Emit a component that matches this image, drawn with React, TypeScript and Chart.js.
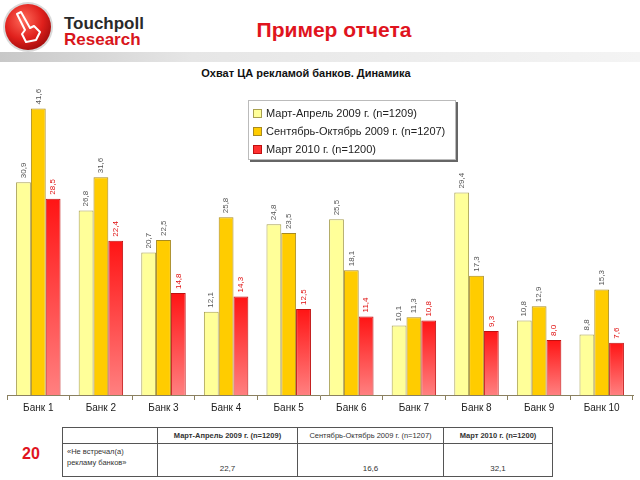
import React, { useEffect, useRef } from "react";
import { Chart, registerables } from "chart.js";

Chart.register(...registerables);

const categories = ["Банк 1", "Банк 2", "Банк 3", "Банк 4", "Банк 5", "Банк 6", "Банк 7", "Банк 8", "Банк 9", "Банк 10"];
const seriesNames = ["Март-Апрель 2009 г. (n=1209)", "Сентябрь-Октябрь 2009 г. (n=1207)", "Март 2010 г. (n=1200)"];
const marApr2009 = [30.9, 26.8, 20.7, 12.1, 24.8, 25.5, 10.1, 29.4, 10.8, 8.8];
const sepOct2009 = [41.6, 31.6, 22.5, 25.8, 23.5, 18.1, 11.3, 17.3, 12.9, 15.3];
const mar2010 = [28.5, 22.4, 14.8, 14.3, 12.5, 11.4, 10.8, 9.3, 8.0, 7.6];
const tableHeaders = ["Март-Апрель 2009 г. (n=1209)", "Сентябрь-Октябрь 2009 г. (n=1207)", "Март 2010 г. (n=1200)"];
const tableRowLabel = ["«Не встречал(а)", "рекламу банков»"];
const tableValues = ["22,7", "16,6", "32,1"];

const fillColors = ["#ffff99", "#ffcc00", "#ff2a2a"];
const borderColors = ["#a8a050", "#a88a20", "#c01010"];
const labelColors = ["#555555", "#555555", "#e01010"];

const fmt = (v: number) => v.toFixed(1).replace(".", ",");

const valueLabels = {
  id: "valueLabels",
  afterDatasetsDraw(chart: any) {
    const ctx = chart.ctx;
    chart.data.datasets.forEach((ds: any, di: number) => {
      const meta = chart.getDatasetMeta(di);
      meta.data.forEach((el: any, i: number) => {
        ctx.save();
        ctx.translate(el.x, el.y - 4);
        ctx.rotate(-Math.PI / 2);
        ctx.font = "8px Arial, 'Liberation Sans', sans-serif";
        ctx.fillStyle = labelColors[di];
        ctx.textAlign = "left";
        ctx.textBaseline = "middle";
        ctx.fillText(fmt(ds.data[i]), 0, 0);
        ctx.restore();
      });
    });
  },
};

function App() {
  const ref = useRef<HTMLCanvasElement>(null);
  useEffect(() => {
    if (!ref.current) return;
    const redFill = (c: any) => {
      const chart = c.chart;
      const ys = chart.scales && chart.scales.y;
      if (!ys || c.dataIndex === undefined) return "#ff3030";
      const top = ys.getPixelForValue(mar2010[c.dataIndex]);
      const bottom = ys.getPixelForValue(0);
      if (!isFinite(top) || !isFinite(bottom) || top === bottom) return "#ff3030";
      const g = chart.ctx.createLinearGradient(0, top, 0, bottom);
      g.addColorStop(0, "#ff1414");
      g.addColorStop(1, "#ff8080");
      return g;
    };
    const chart = new Chart(ref.current, {
      type: "bar",
      data: {
        labels: categories,
        datasets: [
          { label: seriesNames[0], data: marApr2009, backgroundColor: fillColors[0], borderColor: borderColors[0], borderWidth: 1 },
          { label: seriesNames[1], data: sepOct2009, backgroundColor: fillColors[1], borderColor: borderColors[1], borderWidth: 1 },
          { label: seriesNames[2], data: mar2010, backgroundColor: redFill as any, borderColor: borderColors[2], borderWidth: 1 },
        ],
      },
      options: {
        animation: false,
        responsive: false,
        devicePixelRatio: 1,
        layout: { padding: { top: 5, left: 7, right: 7, bottom: 0 } },
        datasets: { bar: { categoryPercentage: 0.71, barPercentage: 1.0 } },
        plugins: { legend: { display: false }, tooltip: { enabled: false } },
        scales: {
          y: { display: false, min: 0, max: 45 },
          x: {
            grid: { display: true, drawOnChartArea: false, drawTicks: true, tickLength: 5, offset: true, color: "#8a8060" },
            border: { display: true, color: "#8a8060", width: 1 },
            ticks: { color: "#222", font: { size: 10, family: "Arial, 'Liberation Sans', sans-serif" }, padding: 2 },
          },
        },
      },
      plugins: [valueLabels],
    });
    return () => chart.destroy();
  }, []);

  const font = "Arial, 'Liberation Sans', sans-serif";
  return (
    <div style={{ position: "fixed", left: 0, top: 0, width: 640, height: 480, background: "#fff", fontFamily: font, overflow: "hidden" }}>
      <svg width={640} height={70} style={{ position: "absolute", left: 0, top: 0 }}>
        <defs>
          <radialGradient id="rg" cx="40%" cy="35%" r="70%">
            <stop offset="0%" stopColor="#ff6a5a" />
            <stop offset="60%" stopColor="#e0201c" />
            <stop offset="100%" stopColor="#a00c0c" />
          </radialGradient>
          <linearGradient id="band" x1="0" x2="1" y1="0" y2="0">
            <stop offset="0%" stopColor="#c8c8c8" />
            <stop offset="30%" stopColor="#e6e6e6" />
            <stop offset="100%" stopColor="#f4f4f4" />
          </linearGradient>
        </defs>
        <rect x={0} y={52} width={640} height={10} fill="url(#band)" />
        <circle cx={28} cy={27} r={25} fill="#d9d9d9" />
        <circle cx={28} cy={27} r={23} fill="url(#rg)" />
        <path d="M17 14 L25 30 L22 34 L26 42 L36 40 L40 32 L34 26 L30 28 L21 12 Z" fill="none" stroke="#fff" strokeWidth={2} strokeLinejoin="round" />
        <text x={64} y={29} fontFamily={font} fontWeight="bold" fontSize={17} fill="#2a2a2a">Touchpoll</text>
        <text x={64} y={45} fontFamily={font} fontWeight="bold" fontSize={17} fill="#d8161c">Research</text>
        <text x={334} y={37} textAnchor="middle" fontFamily={font} fontWeight="bold" fontSize={21} fill="#e0141e">Пример отчета</text>
      </svg>
      <div style={{ position: "absolute", left: 0, width: 612, top: 67, textAlign: "center", fontSize: 11, fontWeight: "bold", color: "#111" }}>
        Охват ЦА рекламой банков. Динамика
      </div>
      <canvas ref={ref} width={640} height={336} style={{ position: "absolute", left: 0, top: 80, width: 640, height: 336 }} />
      <div style={{ position: "absolute", left: 248, top: 100, width: 206, height: 58, background: "#fff", border: "1px solid #bbb", boxShadow: "2px 2px 0 #666", fontSize: 11, color: "#222" }}>
        {seriesNames.map((n, i) => (
          <div key={i} style={{ position: "absolute", left: 4, top: 6 + i * 18, whiteSpace: "nowrap", display: "flex", alignItems: "center" }}>
            <span style={{ display: "inline-block", width: 7, height: 7, background: i === 2 ? "#ff3030" : fillColors[i], border: `1px solid ${borderColors[i]}`, marginRight: 4 }} />
            {n}
          </div>
        ))}
      </div>
      <div style={{ position: "absolute", left: 22, top: 445, fontSize: 16, fontWeight: "bold", color: "#e0141e" }}>20</div>
      <table style={{ position: "absolute", left: 62, top: 427, width: 491, height: 50, borderCollapse: "collapse", fontSize: 7.5, color: "#333", fontFamily: font }}>
        <tbody>
          <tr style={{ height: 16 }}>
            <td style={{ border: "1px solid #555", width: 92 }}></td>
            <td style={{ border: "1px solid #555", width: 137, textAlign: "center", fontWeight: "bold" }}>{tableHeaders[0]}</td>
            <td style={{ border: "1px solid #555", width: 143, textAlign: "center" }}>{tableHeaders[1]}</td>
            <td style={{ border: "1px solid #555", textAlign: "center", fontWeight: "bold" }}>{tableHeaders[2]}</td>
          </tr>
          <tr>
            <td style={{ border: "1px solid #555", verticalAlign: "top", padding: "2px 4px", lineHeight: "11px" }}>
              {tableRowLabel[0]}<br />{tableRowLabel[1]}
            </td>
            {tableValues.map((v, i) => (
              <td key={i} style={{ border: "1px solid #555", textAlign: "center", verticalAlign: "bottom", paddingBottom: 3, fontSize: 8 }}>{v}</td>
            ))}
          </tr>
        </tbody>
      </table>
    </div>
  );
}

export default App;
